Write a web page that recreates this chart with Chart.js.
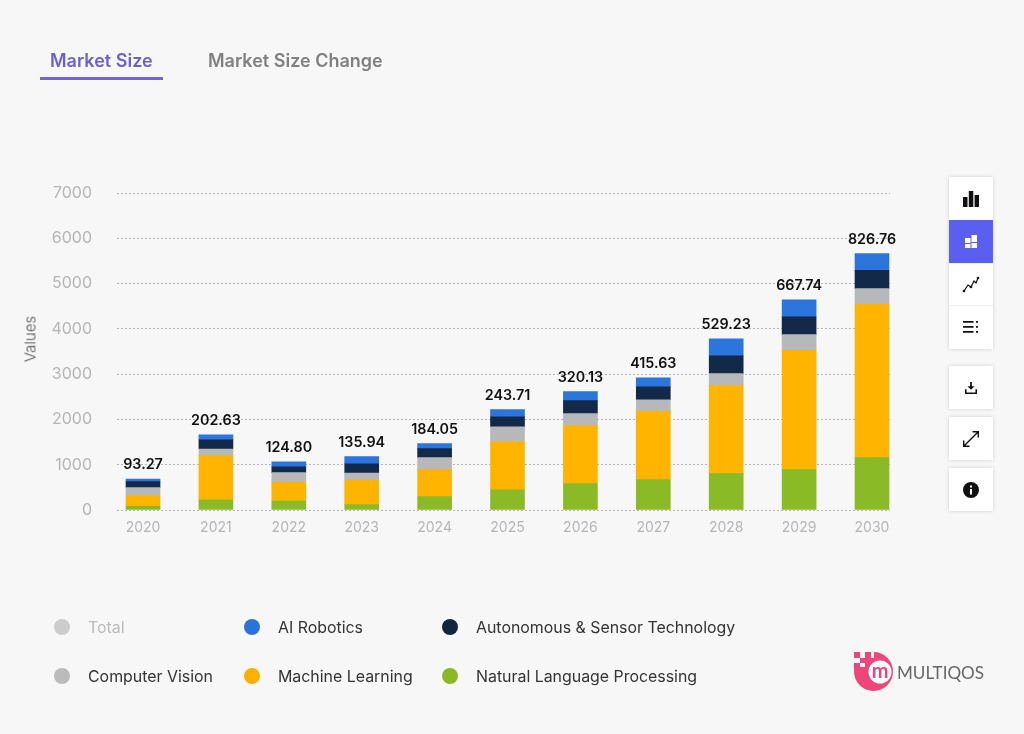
<!DOCTYPE html>
<html>
<head>
<meta charset="utf-8">
<script src="https://cdn.jsdelivr.net/npm/chart.js@4"></script>
<style>
  html, body { margin: 0; padding: 0; background: #f7f7f7; }
  body { width: 1024px; height: 734px; position: relative; overflow: hidden; font-family: Inter, sans-serif; }
  canvas { position: absolute; left: 0; top: 0; }
  .tab { position: absolute; top: 49px; font-size: 18px; font-weight: 600; line-height: 24px; color: #808080; white-space: nowrap; }
  .tab.active { color: #6c5fd0; }
  #underline { position: absolute; left: 40px; top: 77px; width: 123px; height: 3px; background: #7464d6; }
  #yTitle { position: absolute; left: 30px; top: 339px; transform: translate(-50%, -50%) rotate(-90deg); font-size: 15px; font-weight: 300; color: #555; white-space: nowrap; }
  .legend-item { position: absolute; font-size: 15.9px; line-height: 20px; color: #333; white-space: nowrap; }
  .legend-item i { position: absolute; width: 16px; height: 16px; border-radius: 50%; top: 1px; }
  .box { position: absolute; left: 949px; width: 44px; background: #fff; box-shadow: 0 0 4px rgba(0,0,0,.16); }
  .btn { position: absolute; left: 0; width: 44px; height: 43px; display: flex; align-items: center; justify-content: center; }
  .btn svg { display: block; }
  #logo { position: absolute; left: 850px; top: 648px; }
</style>
</head>
<body>
<canvas id="marketChart" width="1024" height="734"></canvas>

<div class="tab active" style="left:50px">Market Size</div>
<div class="tab" style="left:208px">Market Size Change</div>
<div id="underline"></div>
<div id="yTitle">Values</div>
<div id="legend"></div>

<div class="box" style="top:177px;height:172px">
  <div class="btn" style="top:0">
    <svg width="18" height="18" viewBox="0 0 18 18"><path fill="#111" d="M1 7h4.500v10H1zM6.800 1h4.500v16H6.800zM12.600 5H17v12h-4.400z"/></svg>
  </div>
  <div class="btn" style="top:43px;background:#5b5ff0">
    <svg width="12" height="13" viewBox="0 0 12 13"><path fill="#fff" d="M0 3h5.500v5H0zM0 9h5.500v4H0zM6.500 0H12v7H6.500zM6.500 8H12v5H6.500z"/></svg>
  </div>
  <div class="btn" style="top:86px;border-top:1px solid #eee;box-sizing:border-box">
    <svg width="18" height="18" viewBox="0 0 18 18"><path fill="none" stroke="#111" stroke-width="1.200" d="M2 15l4-6 3 2 3-6 2 2 2-5"/><circle cx="2" cy="15" r="1.300" fill="#111"/><circle cx="9" cy="11" r="1.300" fill="#111"/><circle cx="16" cy="2" r="1.300" fill="#111"/></svg>
  </div>
  <div class="btn" style="top:128px;border-top:1px solid #eee;box-sizing:border-box">
    <svg width="16" height="14" viewBox="0 0 16 14"><path fill="#111" d="M0 1h10.500v1.800H0zM0 6h10.500v1.800H0zM0 11h10.500v1.800H0zM13 1h2v1.800h-2zM13 6h2v1.800h-2zM13 11h2v1.800h-2z"/></svg>
  </div>
</div>
<div class="box" style="top:366px;height:43px">
  <div class="btn" style="top:0">
    <svg width="14" height="14" viewBox="0 0 16 16"><path fill="#111" d="M7 1h2v5h3l-4 4-4-4h3z"/><path fill="none" stroke="#111" stroke-width="1.800" d="M2 9.500v4.500h12V9.500"/></svg>
  </div>
</div>
<div class="box" style="top:417px;height:43px">
  <div class="btn" style="top:0">
    <svg width="18" height="18" viewBox="0 0 18 18"><path fill="none" stroke="#111" stroke-width="1.400" d="M2 16L16 2M10.500 1.700h5.800v5.800M7.500 16.300H1.700v-5.800"/></svg>
  </div>
</div>
<div class="box" style="top:468px;height:43px">
  <div class="btn" style="top:0">
    <svg width="18" height="18" viewBox="0 0 18 18"><circle cx="9" cy="9" r="8" fill="#111"/><path fill="#fff" d="M8 8h2v5.500H8zM8 4.500h2v2H8z"/></svg>
  </div>
</div>

<svg id="logo" width="140" height="48" viewBox="0 0 140 48">
  <circle cx="23.500" cy="23.500" r="19.500" fill="#f0457a"/>
  <path fill="#f7f7f7" d="M3 3h21v7H15v9H3z"/>
  <path fill="#f0457a" d="M4 4h6v6H4zM15 4h6v6h-6zM10 10h5v5h-5zM4 15h6v6H4zM15 12h5v5h-5zM10 21h5v5h-5z"/>
  <circle cx="30" cy="24" r="11.500" fill="#fff"/>
  <text x="30" y="30" text-anchor="middle" font-family="Lato, sans-serif" font-size="20" font-weight="700" fill="#f0457a">m</text>
  <text x="47" y="30.500" font-family="Lato, sans-serif" font-size="17" fill="#666" textLength="87" lengthAdjust="spacingAndGlyphs">MULTIQOS</text>
</svg>

<script>
// valeurs
const years = [2020, 2021, 2022, 2023, 2024, 2025, 2026, 2027, 2028, 2029, 2030]
const totals = ['93.27', '202.63', '124.80', '135.94', '184.05', '243.71', '320.13', '415.63', '529.23', '667.74', '826.76']
const nlp = [80, 227, 199, 117, 294, 448, 581, 669, 802, 890, 1155]
const machineLearning = [236, 972, 411, 545, 596, 1060, 1281, 1508, 1943, 2634, 3394]
const computerVision = [177, 148, 214, 155, 265, 331, 265, 258, 265, 347, 338]
const autonomous = [132, 205, 132, 205, 199, 221, 287, 287, 397, 397, 404]
const robotics = [60, 110, 110, 155, 110, 155, 199, 199, 375, 375, 369]
const yTicks = [0, 1000, 2000, 3000, 4000, 5000, 6000, 7000]

// Affiche le total au dessus de chaque barre
const totalLabels = {
  id: 'totalLabels',
  afterDatasetsDraw(chart) {
    const ctx = chart.ctx
    const bars = chart.getDatasetMeta(4).data
    ctx.save()
    ctx.font = '600 14.3px Inter'
    ctx.fillStyle = '#111'
    ctx.textAlign = 'center'
    ctx.textBaseline = 'middle'
    bars.forEach((bar, i) => ctx.fillText(totals[i], bar.x, bar.y - 14))
    ctx.restore()
  },
}

const chart = new Chart(document.getElementById('marketChart'), {
  type: 'bar',
  data: {
    labels: years,
    datasets: [
      { label: 'Natural Language Processing', data: nlp, backgroundColor: '#8bba27', legendColor: '#8ab928' },
      { label: 'Machine Learning', data: machineLearning, backgroundColor: '#ffb400', legendColor: '#fdb000' },
      { label: 'Computer Vision', data: computerVision, backgroundColor: '#b6b8b9', legendColor: '#bbbbbb' },
      { label: 'Autonomous & Sensor Technology', data: autonomous, backgroundColor: '#13294a', legendColor: '#12263f' },
      { label: 'AI Robotics', data: robotics, backgroundColor: '#2c75dc', legendColor: '#2b73db' },
      { label: 'Total', data: totals.map(Number), hidden: true, backgroundColor: '#cccccc', legendColor: '#cccccc' },
    ],
  },
  plugins: [totalLabels],
  options: {
    responsive: false,
    animation: false,
    barThickness: 34,
    layout: { padding: { top: 193, right: 134, left: 0, bottom: 0 } },
    plugins: { legend: { display: false }, tooltip: { enabled: false } },
    scales: {
      x: {
        type: 'linear',
        offset: false,
        stacked: true,
        min: 2019.643,
        max: 2030.247,
        afterBuildTicks: (scale) => { scale.ticks = years.map((y) => ({ value: y })) },
        afterFit: (scale) => { scale.height = 224 },
        grid: { display: false },
        border: { display: false },
        ticks: { color: '#b5b5b5', font: { family: 'Inter', size: 14 }, padding: 1, maxRotation: 0, callback: (v) => String(v) },
      },
      y: {
        stacked: true,
        min: 0,
        max: 7000,
        afterBuildTicks: (scale) => { scale.ticks = yTicks.map((v) => ({ value: v })) },
        afterFit: (scale) => { scale.width = 117 },
        grid: { color: '#b5b5b5', lineWidth: 1, drawTicks: false },
        border: { display: false, dash: [2, 2] },
        ticks: { color: '#b5b5b5', font: { family: 'Inter', size: 16 }, padding: 25, callback: (v) => String(v) },
      },
    },
  },
})

// Légende HTML sur deux lignes
const legendX = [{ dot: 54, text: 88 }, { dot: 244, text: 278 }, { dot: 442, text: 476 }]
const legendY = [618, 667]
const legendEl = document.getElementById('legend')
chart.data.datasets.slice().reverse().forEach((ds, i) => {
  const col = legendX[i % 3]
  const item = document.createElement('div')
  item.className = 'legend-item'
  item.style.left = col.text + 'px'
  item.style.top = legendY[Math.floor(i / 3)] + 'px'
  if (ds.hidden) item.style.color = '#bbbbbb'
  item.textContent = ds.label
  const dot = document.createElement('i')
  dot.style.left = col.dot - col.text + 'px'
  dot.style.background = ds.legendColor
  item.appendChild(dot)
  legendEl.appendChild(item)
})
</script>
</body>
</html>
